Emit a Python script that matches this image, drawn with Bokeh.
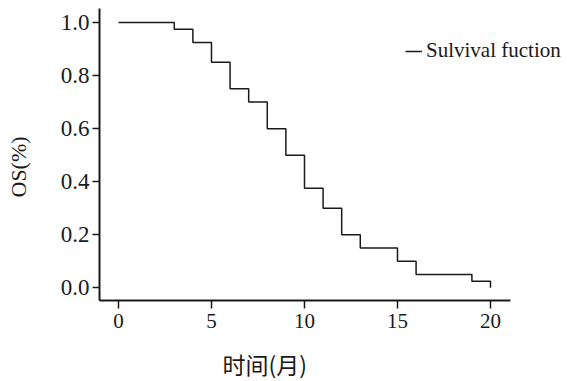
from bokeh.plotting import figure
from bokeh.models import (Range1d, FixedTicker, NumeralTickFormatter, Legend,
                          LegendItem, Title, ColumnDataSource)
from bokeh.embed import file_html
from bokeh.resources import INLINE

# Data
months = [0, 3, 4, 5, 6, 7, 8, 9, 10, 11, 12, 13, 15, 16, 19, 20]
survival = [1.0, 0.975, 0.925, 0.85, 0.75, 0.70, 0.60, 0.50, 0.375, 0.30,
            0.20, 0.15, 0.10, 0.05, 0.025, 0.0]
x_ticks = [0, 5, 10, 15, 20]
y_ticks = [0.0, 0.2, 0.4, 0.6, 0.8, 1.0]
series_name = "Sulvival fuction"
x_title = "时间(月)"
y_title = "OS(%)"

SERIF = "Liberation Serif"
INK = "#1a1a1a"

p = figure(width=567, height=381, output_backend="svg", toolbar_location=None,
           x_range=Range1d(-1.02, 24.14), y_range=Range1d(-0.048, 1.053),
           min_border_left=99, min_border_right=0, min_border_top=8,
           min_border_bottom=81)
p.outline_line_color = None
p.xgrid.visible = False
p.ygrid.visible = False
p.background_fill_color = "white"
p.border_fill_color = "white"

src = ColumnDataSource(dict(t=months, s=survival))
r = p.step("t", "s", source=src, mode="after", line_color=INK, line_width=1.5)

for ax in (p.xaxis[0], p.yaxis[0]):
    ax.axis_line_width = 2
    ax.axis_line_color = INK
    ax.major_tick_line_color = INK
    ax.major_tick_line_width = 1.5
    ax.minor_tick_line_color = None
    ax.major_tick_in = 0
    ax.major_label_text_font = SERIF
    ax.major_label_text_color = INK

p.xaxis.bounds = (-1.02, 21.08)
p.xaxis.ticker = FixedTicker(ticks=x_ticks)
p.xaxis.major_tick_out = 8
p.xaxis.major_label_standoff = 5
p.xaxis.major_label_text_font_size = "21px"

p.yaxis.ticker = FixedTicker(ticks=y_ticks)
p.yaxis.formatter = NumeralTickFormatter(format="0.0")
p.yaxis.major_tick_out = 7
p.yaxis.major_label_standoff = 3
p.yaxis.major_label_text_font_size = "23px"

legend = Legend(items=[LegendItem(label=series_name, renderers=[r])],
                location=(306, 237), padding=0, margin=0, spacing=0,
                glyph_width=17, label_standoff=4,
                border_line_color=None, background_fill_alpha=0,
                label_text_font=SERIF, label_text_font_size="21px",
                label_text_color=INK)
p.add_layout(legend)

# spacing panels (blank) between axes and their titles
p.add_layout(Title(text=" ", text_font_size="1px", standoff=23), "left")
p.add_layout(Title(text=y_title, align="left", offset=103,
                   vertical_align="bottom",
                   text_font=SERIF, text_font_size="22px",
                   text_font_style="normal", text_color=INK, standoff=2),
             "left")

p.add_layout(Title(text=" ", text_font_size="1px", standoff=10), "below")
p.add_layout(Title(text=x_title, align="left", offset=123,
                   vertical_align="bottom",
                   text_font="Noto Sans CJK SC", text_font_size="23px",
                   text_font_style="normal", text_color=INK, standoff=2),
             "below")

open("out.html", "w").write(file_html(p, INLINE))
